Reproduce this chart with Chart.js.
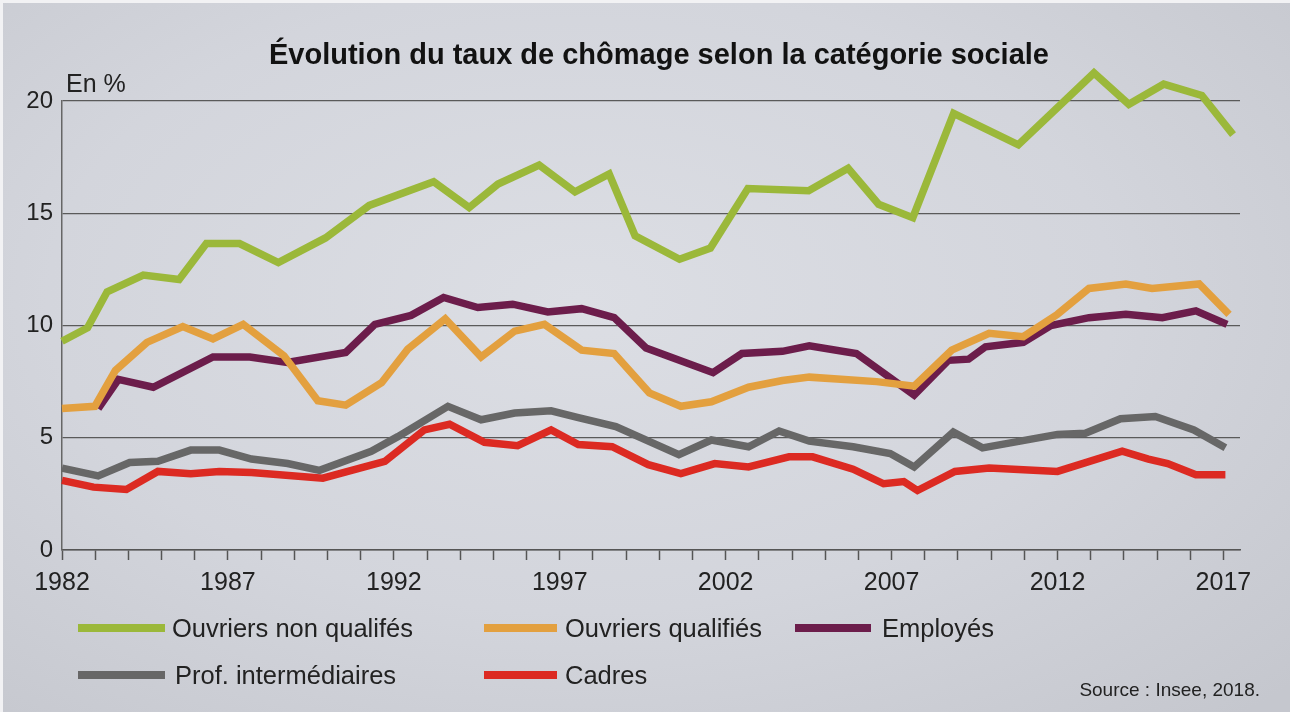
<!DOCTYPE html>
<html>
<head>
<meta charset="utf-8">
<script src="https://cdn.jsdelivr.net/npm/chart.js@4.4.1/dist/chart.umd.min.js"></script>
<style>
  html, body { margin: 0; padding: 0; }
  body {
    width: 1290px; height: 712px; overflow: hidden; position: relative;
    background: radial-gradient(ellipse 75% 80% at 45% 42%, #dcdee4 0%, #d3d5dc 55%, #c5c7ce 100%);
    font-family: "Liberation Sans", Arial, sans-serif;
  }
  body::before {
    content: ""; position: absolute; left: 0; top: 0; right: 0; bottom: 0;
    border-top: 3px solid #f2f2f4; border-left: 3px solid #f2f2f4; pointer-events: none;
  }
  #wrap { position: absolute; left: 0; top: 0; width: 1290px; height: 712px; }
  .leg { position: absolute; font-size: 25.5px; color: #222; white-space: nowrap; line-height: 30px; }
  .leg .sw { position: absolute; height: 8px; top: 11px; }
  #source { position: absolute; right: 30px; top: 679px; font-size: 19px; color: #222; }
</style>
</head>
<body>
<div id="wrap"><canvas id="chart"></canvas></div>
<div id="legend"></div>
<div id="source">Source : Insee, 2018.</div>
<script>
const chartTitle = 'Évolution du taux de chômage selon la catégorie sociale';
const unitLabel = 'En %';
const yTicks = [0, 5, 10, 15, 20];
const labelledYears = [1982, 1987, 1992, 1997, 2002, 2007, 2012, 2017];

const seriesNames = ['Ouvriers non qualifés', 'Ouvriers qualifiés', 'Employés', 'Prof. intermédiaires', 'Cadres'];
const seriesColors = ['#9bb83a', '#e3a03f', '#6c1d4b', '#676767', '#dc2a22'];

// Ouvriers non qualifés
const nonQualYears = [1982.0, 1982.77, 1983.36, 1984.45, 1985.53, 1986.35, 1987.35, 1988.52, 1989.94, 1991.26, 1993.2, 1994.27, 1995.14, 1996.38, 1997.46, 1998.49, 1999.27, 2000.61, 2001.54, 2002.67, 2004.5, 2005.69, 2006.61, 2007.64, 2008.87, 2010.82, 2013.1, 2014.15, 2015.2, 2016.35, 2017.29];
const nonQualValues = [9.3, 9.9, 11.5, 12.25, 12.05, 13.65, 13.65, 12.8, 13.9, 15.35, 16.4, 15.25, 16.3, 17.15, 15.95, 16.75, 14.0, 12.95, 13.45, 16.1, 16.0, 17.0, 15.4, 14.8, 19.45, 18.05, 21.25, 19.85, 20.75, 20.25, 18.5];

// Ouvriers qualifiés
const qualYears = [1982.0, 1982.99, 1983.61, 1984.56, 1985.64, 1986.55, 1987.46, 1988.69, 1989.71, 1990.55, 1991.63, 1992.42, 1993.55, 1994.63, 1995.64, 1996.54, 1997.66, 1998.64, 1999.7, 2000.65, 2001.57, 2002.69, 2003.71, 2004.52, 2006.55, 2007.68, 2008.81, 2009.94, 2010.97, 2012.0, 2012.95, 2014.06, 2014.85, 2016.27, 2017.17];
const qualValues = [6.3, 6.4, 8.0, 9.25, 9.95, 9.4, 10.05, 8.65, 6.65, 6.45, 7.45, 8.95, 10.3, 8.6, 9.75, 10.05, 8.9, 8.75, 7.0, 6.4, 6.6, 7.25, 7.55, 7.7, 7.5, 7.3, 8.9, 9.65, 9.5, 10.5, 11.65, 11.85, 11.65, 11.85, 10.5];

// Employés
const employesYears = [1983.09, 1983.7, 1984.75, 1986.55, 1987.66, 1988.79, 1990.55, 1991.43, 1992.52, 1993.5, 1994.53, 1995.58, 1996.64, 1997.66, 1998.64, 1999.6, 2001.62, 2002.49, 2003.71, 2004.52, 2005.94, 2007.68, 2008.71, 2009.32, 2009.83, 2010.97, 2011.8, 2012.95, 2014.06, 2015.16, 2016.17, 2017.11];
const employesValues = [6.3, 7.6, 7.25, 8.6, 8.6, 8.35, 8.8, 10.05, 10.45, 11.25, 10.8, 10.95, 10.6, 10.75, 10.35, 9.0, 7.9, 8.75, 8.85, 9.1, 8.75, 6.9, 8.45, 8.5, 9.05, 9.25, 10.0, 10.35, 10.5, 10.35, 10.65, 10.05];

// Prof. intermédiaires
const profYears = [1982.0, 1983.09, 1984.04, 1984.89, 1985.88, 1986.74, 1987.71, 1988.8, 1989.76, 1991.32, 1992.12, 1993.63, 1994.63, 1995.64, 1996.74, 1997.56, 1998.69, 2000.59, 2001.57, 2002.69, 2003.61, 2004.52, 2005.84, 2006.96, 2007.68, 2008.86, 2009.74, 2012.0, 2012.84, 2013.9, 2014.95, 2016.11, 2017.06];
const profValues = [3.65, 3.3, 3.9, 3.95, 4.45, 4.45, 4.05, 3.85, 3.55, 4.4, 5.05, 6.4, 5.8, 6.1, 6.2, 5.9, 5.5, 4.25, 4.9, 4.6, 5.3, 4.85, 4.6, 4.3, 3.7, 5.25, 4.55, 5.15, 5.2, 5.85, 5.95, 5.35, 4.55];

// Cadres
const cadresYears = [1982.0, 1982.95, 1983.94, 1984.89, 1985.88, 1986.74, 1987.71, 1989.86, 1991.73, 1992.92, 1993.68, 1994.73, 1995.73, 1996.74, 1997.56, 1998.58, 1999.67, 2000.65, 2001.67, 2002.69, 2003.91, 2004.62, 2005.84, 2006.76, 2007.37, 2007.78, 2008.91, 2009.94, 2012.0, 2013.95, 2014.74, 2015.32, 2016.17, 2017.06];
const cadresValues = [3.1, 2.8, 2.7, 3.5, 3.4, 3.5, 3.45, 3.2, 3.95, 5.35, 5.6, 4.8, 4.65, 5.35, 4.7, 4.6, 3.8, 3.4, 3.85, 3.7, 4.15, 4.15, 3.6, 2.95, 3.05, 2.65, 3.5, 3.65, 3.5, 4.4, 4.05, 3.85, 3.35, 3.35];

const seriesYears = [nonQualYears, qualYears, employesYears, profYears, cadresYears];
const seriesValues = [nonQualValues, qualValues, employesValues, profValues, cadresValues];

const FONT = '"Liberation Sans", Arial, sans-serif';

// legend slots: [swatch left, swatch width, text left, top]
const legendSlots = [[78, 87, 172, 613], [484, 73, 565, 613], [795, 76, 882, 613], [78, 87, 175, 660], [484, 73, 565, 660]];
const legendEl = document.getElementById('legend');
seriesNames.forEach((name, i) => {
  const s = legendSlots[i];
  const item = document.createElement('div');
  item.className = 'leg';
  item.style.left = s[2] + 'px';
  item.style.top = s[3] + 'px';
  item.textContent = name;
  const sw = document.createElement('span');
  sw.className = 'sw';
  sw.style.left = (s[0] - s[2]) + 'px';
  sw.style.width = s[1] + 'px';
  sw.style.background = seriesColors[i];
  item.appendChild(sw);
  legendEl.appendChild(item);
});

const headerPlugin = {
  id: 'header',
  afterDraw(chart) {
    const { ctx, chartArea } = chart;
    ctx.save();
    ctx.fillStyle = '#121212';
    ctx.font = 'bold 29px ' + FONT;
    ctx.textAlign = 'center';
    ctx.fillText(chartTitle, 659, 64);
    ctx.fillStyle = '#222';
    ctx.font = '25px ' + FONT;
    ctx.textAlign = 'left';
    ctx.fillText(unitLabel, chartArea.left + 4, chartArea.top - 9);
    ctx.restore();
  }
};

const ctx = document.getElementById('chart').getContext('2d');
new Chart(ctx, {
  type: 'line',
  data: {
    datasets: seriesNames.map((name, i) => ({
      label: name,
      data: seriesYears[i].map((x, j) => ({ x: x, y: seriesValues[i][j] })),
      borderColor: seriesColors[i],
      backgroundColor: seriesColors[i],
      borderWidth: 7.5,
      borderJoinStyle: 'miter',
      pointRadius: 0,
      tension: 0,
      clip: false
    }))
  },
  options: {
    responsive: true,
    maintainAspectRatio: false,
    animation: false,
    layout: { padding: { left: 24, right: 50, top: 101, bottom: 106 } },
    plugins: {
      legend: { display: false },
      title: { display: false },
      tooltip: { enabled: false }
    },
    scales: {
      x: {
        type: 'linear',
        min: 1982,
        max: 2017.5,
        ticks: {
          stepSize: 1,
          autoSkip: false,
          maxRotation: 0,
          includeBounds: false,
          padding: 8,
          color: '#222',
          font: { family: FONT, size: 25 },
          callback: v => labelledYears.includes(Math.round(v)) ? String(Math.round(v)) : ''
        },
        grid: { drawOnChartArea: false, drawTicks: true, tickLength: 10, tickColor: '#555', tickWidth: 1.5 },
        border: { display: true, color: '#555', width: 1.5 }
      },
      y: {
        min: 0,
        max: 20,
        afterBuildTicks: axis => { axis.ticks = yTicks.map(v => ({ value: v })); },
        afterFit: scale => { scale.width = 38; },
        ticks: { padding: 9, color: '#222', font: { family: FONT, size: 24 } },
        grid: { color: '#5a5a5a', lineWidth: 1.2, drawTicks: false },
        border: { display: true, color: '#666', width: 1.5 }
      }
    }
  },
  plugins: [headerPlugin]
});
</script>
</body>
</html>
